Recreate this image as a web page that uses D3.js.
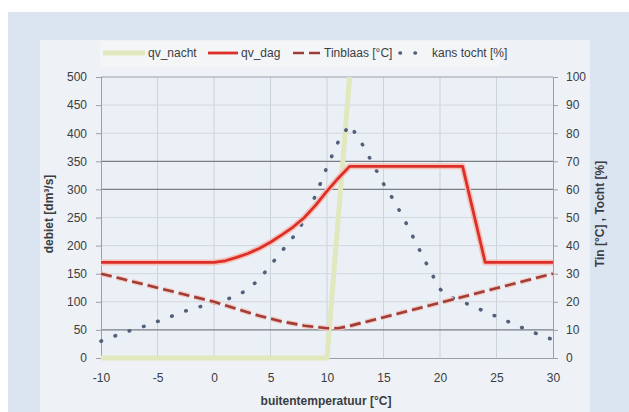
<!DOCTYPE html>
<html>
<head>
<meta charset="utf-8">
<script src="https://cdn.jsdelivr.net/npm/d3@7"></script>
<style>
  body { margin: 0; background: #fff; }
  svg text { font-family: "Liberation Sans", Arial, sans-serif; fill: #3a3d42; }
</style>
</head>
<body>
<svg id="chart" width="629" height="412"></svg>
<script>
// ── data ─────────────────────────────────────────────────────────────────────
const xTicks = [-10, -5, 0, 5, 10, 15, 20, 25, 30];
const leftTicks = [0, 50, 100, 150, 200, 250, 300, 350, 400, 450, 500];
const rightTicks = [0, 10, 20, 30, 40, 50, 60, 70, 80, 90, 100];
const darkLines = [50, 300, 350];

// qv_nacht [dm3/s]
const qvNachtX = [-10, 10, 12];
const qvNachtY = [0, 0, 500];

// qv_dag [dm3/s]
const qvDagX = [-10, 0, 1, 2, 3, 4, 5, 6, 7, 8, 9, 10, 11, 12, 22, 24, 30];
const qvDagY = [170, 170, 173, 179, 186, 195, 206, 219, 233, 250, 272, 297, 320, 341, 341, 170, 170];

// Tinblaas [°C]  (right axis)
const tinX = [-10, -8, -6, -4, -2, 0, 2, 4, 6, 8, 10, 11, 12, 30];
const tinY = [30, 28, 26, 24, 22, 20, 17.5, 15, 13, 11.5, 10.6, 10.6, 11.4, 30];

// kans tocht [%]  (right axis)
const tochtX = [-10, -8, -6, -4, -2, 0, 2, 3, 4, 5, 6, 7, 8, 9, 10, 11, 12, 13, 14, 15, 16, 17, 18, 19, 20, 21, 22, 24, 26, 28, 30];
const tochtY = [6, 9, 11.5, 14.5, 17.5, 19.5, 22, 24.5, 28, 33, 38, 43, 49, 58, 68, 77, 83, 77, 69.5, 62, 55.5, 48, 40, 32, 24.5, 21.5, 20, 16.5, 13, 9.5, 6.5];

// ── layout ───────────────────────────────────────────────────────────────────
const plot = { left: 101, top: 77, right: 553, bottom: 358 };

const svg = d3.select("#chart");

svg.append("rect").attr("width", 629).attr("height", 412).attr("fill", "#fff");
svg.append("rect").attr("x", 8).attr("y", 12).attr("width", 621).attr("height", 400).attr("fill", "#dbe5f1");
svg.append("rect").attr("x", 40).attr("y", 40).attr("width", 550).attr("height", 372).attr("fill", "#eef1f5");
// legend band
svg.append("rect").attr("x", 100).attr("y", 41).attr("width", 400).attr("height", 26).attr("fill", "#f3f5f7");

const x = d3.scaleLinear().domain([-10, 30]).range([plot.left, plot.right]);
const yL = d3.scaleLinear().domain([0, 500]).range([plot.bottom, plot.top]);
const yR = d3.scaleLinear().domain([0, 100]).range([plot.bottom, plot.top]);

// plot background
svg.append("rect")
  .attr("x", plot.left).attr("y", plot.top)
  .attr("width", plot.right - plot.left).attr("height", plot.bottom - plot.top)
  .attr("fill", "#ebeff6");

// grid
const grid = svg.append("g");
grid.selectAll("line.v").data(xTicks.slice(1, -1)).enter().append("line")
  .attr("x1", d => x(d)).attr("x2", d => x(d))
  .attr("y1", plot.top).attr("y2", plot.bottom)
  .attr("stroke", "#cdd3dc").attr("stroke-width", 1);
grid.selectAll("line.h").data(leftTicks.slice(1, -1)).enter().append("line")
  .attr("x1", plot.left).attr("x2", plot.right)
  .attr("y1", d => yL(d)).attr("y2", d => yL(d))
  .attr("stroke", d => darkLines.includes(d) ? "#7a7f87" : "#d2d8e0")
  .attr("stroke-width", d => darkLines.includes(d) ? 1.2 : 1);

// axes
const fmt = d => String(d);
const axL = svg.append("g").attr("transform", `translate(${plot.left},0)`)
  .call(d3.axisLeft(yL).tickValues(leftTicks).tickFormat(fmt).tickSize(5).tickPadding(9));
const axR = svg.append("g").attr("transform", `translate(${plot.right},0)`)
  .call(d3.axisRight(yR).tickValues(rightTicks).tickFormat(fmt).tickSize(5).tickPadding(8));
const axB = svg.append("g").attr("transform", `translate(0,${plot.bottom})`)
  .call(d3.axisBottom(x).tickValues(xTicks).tickFormat(fmt).tickSize(0).tickPadding(15));

[axL, axR, axB].forEach(a => {
  a.select(".domain").attr("stroke", "#9aa0a8");
  a.selectAll(".tick line").attr("stroke", "#9aa0a8");
  a.selectAll(".tick text").attr("font-size", 12).attr("fill", "#44474c")
    .style("font-family", "'Liberation Sans', Arial, sans-serif");
});
// top border
svg.append("line")
  .attr("x1", plot.left).attr("x2", plot.right).attr("y1", plot.top).attr("y2", plot.top)
  .attr("stroke", "#9aa0a8");

// ── series ───────────────────────────────────────────────────────────────────
const lineL = d3.line().x(d => x(d[0])).y(d => yL(d[1]));
const lineR = d3.line().x(d => x(d[0])).y(d => yR(d[1]));

const zip = (a, b) => a.map((v, i) => [v, b[i]]);

svg.append("path").datum(zip(qvNachtX, qvNachtY))
  .attr("d", lineL).attr("fill", "none")
  .attr("stroke", "#e1e8bd").attr("stroke-width", 5);

svg.append("path").datum(zip(tochtX, tochtY))
  .attr("d", lineR).attr("fill", "none")
  .attr("stroke", "#52607a").attr("stroke-width", 3.6)
  .attr("stroke-linecap", "round").attr("stroke-dasharray", "0.5 14.5");

svg.append("path").datum(zip(tinX, tinY))
  .attr("d", lineR).attr("fill", "none")
  .attr("stroke", "#f0c8c0").attr("stroke-width", 5).attr("stroke-dasharray", "11 5");
svg.append("path").datum(zip(tinX, tinY))
  .attr("d", lineR).attr("fill", "none")
  .attr("stroke", "#a23c36").attr("stroke-width", 2.6).attr("stroke-dasharray", "11 5");

svg.append("path").datum(zip(qvDagX, qvDagY))
  .attr("d", lineL).attr("fill", "none")
  .attr("stroke", "#f4c0b8").attr("stroke-width", 6).attr("stroke-linejoin", "round");
svg.append("path").datum(zip(qvDagX, qvDagY))
  .attr("d", lineL).attr("fill", "none")
  .attr("stroke", "#dc2f28").attr("stroke-width", 2.8).attr("stroke-linejoin", "round");

// ── legend ───────────────────────────────────────────────────────────────────
const legend = svg.append("g").attr("font-size", 12);
const ly = 53;
legend.append("line").attr("x1", 103).attr("x2", 145).attr("y1", ly).attr("y2", ly)
  .attr("stroke", "#e1e8bd").attr("stroke-width", 5);
legend.append("text").attr("x", 148).attr("y", ly + 4).text("qv_nacht");
legend.append("line").attr("x1", 208).attr("x2", 238).attr("y1", ly).attr("y2", ly)
  .attr("stroke", "#dc2f28").attr("stroke-width", 2.8);
legend.append("text").attr("x", 241).attr("y", ly + 4).text("qv_dag");
legend.append("line").attr("x1", 293).attr("x2", 322).attr("y1", ly).attr("y2", ly)
  .attr("stroke", "#a23c36").attr("stroke-width", 2.6).attr("stroke-dasharray", "11 5");
legend.append("text").attr("x", 324).attr("y", ly + 4).text("Tinblaas [°C]");
legend.append("line").attr("x1", 400).attr("x2", 424).attr("y1", ly).attr("y2", ly)
  .attr("stroke", "#52607a").attr("stroke-width", 3.6)
  .attr("stroke-linecap", "round").attr("stroke-dasharray", "0.5 14.5");
legend.append("text").attr("x", 432).attr("y", ly + 4).text("kans tocht [%]");

// ── axis titles ──────────────────────────────────────────────────────────────
svg.append("text")
  .attr("transform", "translate(53,214) rotate(-90)")
  .attr("text-anchor", "middle").attr("font-size", 12).attr("font-weight", "bold")
  .text("debiet [dm³/s]");
svg.append("text")
  .attr("transform", "translate(604,214) rotate(-90)")
  .attr("text-anchor", "middle").attr("font-size", 12).attr("font-weight", "bold")
  .text("Tin [°C] , Tocht [%]");
svg.append("text")
  .attr("x", 326).attr("y", 405)
  .attr("text-anchor", "middle").attr("font-size", 12).attr("font-weight", "bold")
  .text("buitentemperatuur [°C]");
</script>
</body>
</html>
